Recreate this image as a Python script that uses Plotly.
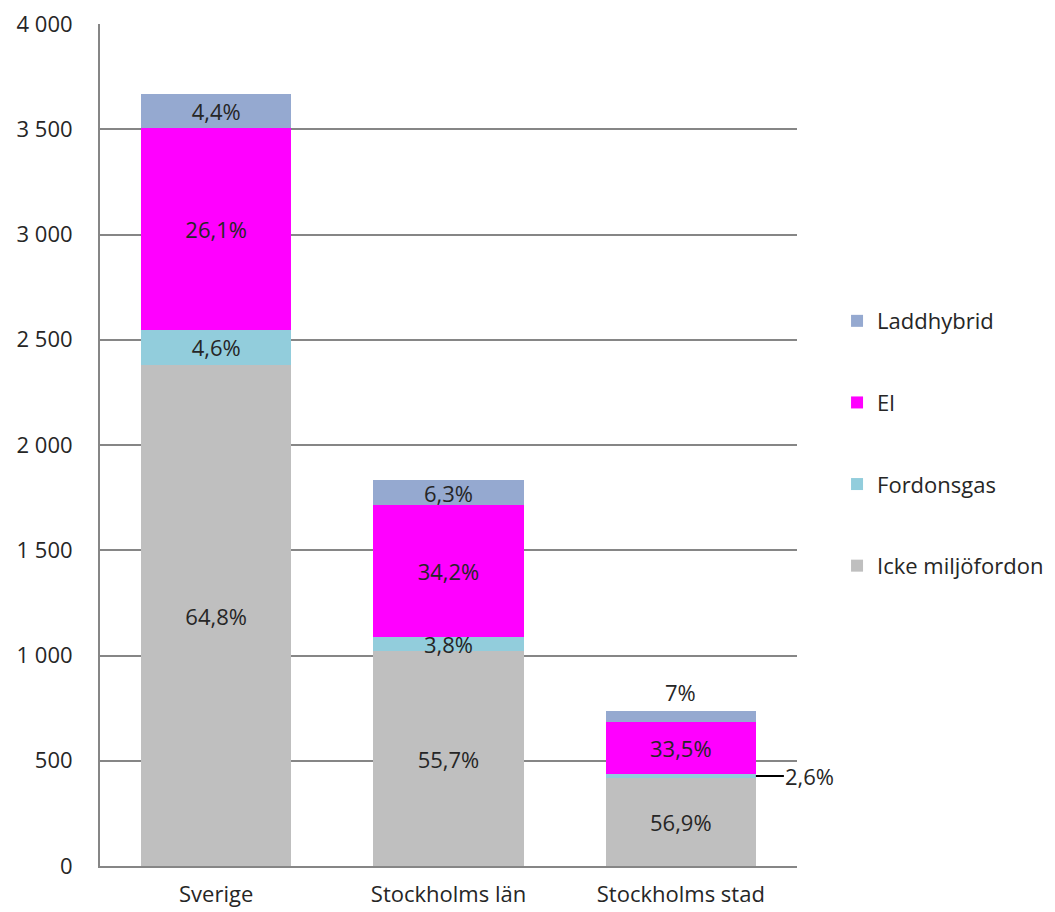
import plotly.graph_objects as go

# Nya personbilar per drivmedel (antal, andel i procent)
regions = ["Sverige", "Stockholms län", "Stockholms stad"]
totals = [3672, 1832, 735]

series_names = ["Icke miljöfordon", "Fordonsgas", "El", "Laddhybrid"]
pct_icke = [64.8, 55.7, 56.9]
pct_gas = [4.6, 3.8, 2.6]
pct_el = [26.1, 34.2, 33.5]
pct_ladd = [4.4, 6.3, 7.0]

colors = ["#BFBFBF", "#92CDDC", "#FF00FF", "#95A9D0"]
font_family = "'Open Sans', Lato, sans-serif"
font_size = 22
text_color = "#262626"
grid_color = "#868686"


def fmt_pct(p):
    s = f"{p:.1f}".replace(".", ",")
    if s.endswith(",0"):
        s = s[:-2]
    return s + "%"


pcts = [pct_icke, pct_gas, pct_el, pct_ladd]
values = [[t * p / 100 for t, p in zip(totals, series)] for series in pcts]

# Which labels sit inside their segment; the rest are drawn as callouts
inside_mask = [
    [True, True, True],
    [True, True, False],
    [True, True, True],
    [True, True, False],
]

bar_width = 0.646
n = len(series_names)
fig = go.Figure()
for k, (name, vals, ps, col, mask) in enumerate(
        zip(series_names, values, pcts, colors, inside_mask)):
    fig.add_trace(go.Bar(
        name=name,
        x=list(range(len(regions))),
        y=vals,
        width=bar_width,
        marker=dict(color=col, line=dict(width=0)),
        text=[fmt_pct(p) if m else "" for p, m in zip(ps, mask)],
        textposition="inside",
        insidetextanchor="middle",
        textangle=0,
        textfont=dict(family=font_family, size=font_size, color=text_color),
        legendgroup=name,
        legendrank=n - k,
    ))

# Callout labels for the small segments of Stockholms stad
i = 2
stack_top = values[0][i] + values[1][i] + values[2][i] + values[3][i]
fig.add_annotation(
    x=i, y=stack_top, text=fmt_pct(pct_ladd[i]), showarrow=False,
    yanchor="bottom", yshift=2,
    font=dict(family=font_family, size=font_size, color=text_color),
)
gas_mid = values[0][i] + values[1][i] / 2
fig.add_annotation(
    x=i + bar_width / 2, y=gas_mid, text=fmt_pct(pct_gas[i]),
    showarrow=True, arrowhead=0, arrowwidth=2, arrowcolor="#000000",
    ax=54, ay=0, standoff=0, startstandoff=0,
    font=dict(family=font_family, size=font_size, color=text_color),
)

fig.update_layout(
    barmode="stack",
    width=1055, height=912,
    margin=dict(l=100, r=258, t=24, b=46, autoexpand=False),
    plot_bgcolor="white",
    paper_bgcolor="white",
    separators=", ",
    uniformtext=dict(mode="show", minsize=font_size),
    font=dict(family=font_family, size=font_size, color=text_color),
    legend=dict(
        traceorder="grouped",
        xref="container", yref="container",
        x=0.7934, xanchor="left",
        y=0.671, yanchor="top",
        tracegroupgap=50,
        font=dict(family=font_family, size=font_size, color=text_color),
        itemclick=False,
    ),
    showlegend=True,
)
fig.update_xaxes(
    tickmode="array",
    tickvals=list(range(len(regions))),
    ticktext=regions,
    range=[-0.5, len(regions) - 0.5],
    showgrid=False,
    showline=True, linecolor=grid_color, linewidth=2,
    ticks="", ticklabelstandoff=8,
    automargin=False,
    tickfont=dict(family=font_family, size=font_size, color=text_color),
)
fig.update_yaxes(
    range=[0, 4000],
    tickvals=[0, 500, 1000, 1500, 2000, 2500, 3000, 3500, 4000],
    tickformat=",d",
    showgrid=True, gridcolor=grid_color, gridwidth=2,
    showline=True, linecolor=grid_color, linewidth=2,
    zeroline=False,
    ticks="", ticklabelstandoff=21,
    automargin=False,
    tickfont=dict(family=font_family, size=font_size, color=text_color),
)

fig.write_html("out.html")
